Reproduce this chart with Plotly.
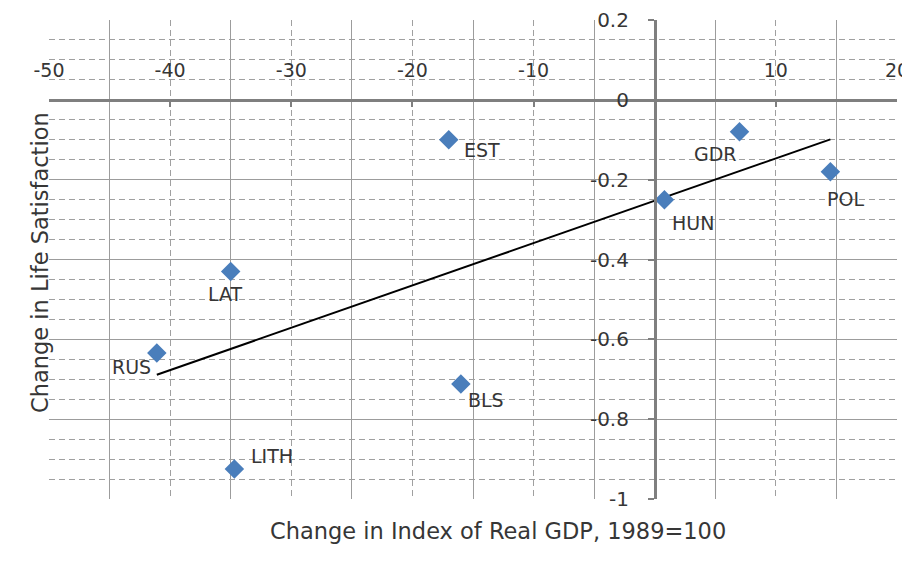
import numpy as np
import plotly.graph_objects as go

# ---- data ----
countries = ["EST", "GDR", "POL", "HUN", "LAT", "RUS", "LITH", "BLS"]
gdp_change = [-17.0, 7.0, 14.5, 0.8, -35.0, -41.1, -34.7, -16.0]
ls_change = [-0.10, -0.08, -0.18, -0.25, -0.43, -0.634, -0.925, -0.712]

x_tick_vals = [-50, -40, -30, -20, -10, 0, 10, 20]
x_tick_text = ["-50", "-40", "-30", "-20", "-10", "", "10", "20"]
y_tick_vals = [0.2, 0, -0.2, -0.4, -0.6, -0.8, -1]
y_tick_text = ["0.2", "0", "-0.2", "-0.4", "-0.6", "-0.8", "-1"]

# label offsets (pixels) for data labels
label_dx = [33, -24, 15, 29, -5, -25, 38, 25]
label_dy = [-10, -22, -27, -23, -23, -14, 13, -16]

x_range = [-50, 20]
y_range = [-1, 0.2]

TXT = "#363636"
FONT = "DejaVu Sans"

# linear trend (least squares) from the data
slope, intercept = np.polyfit(gdp_change, ls_change, 1)
tx = np.array([min(gdp_change), max(gdp_change)])
ty = slope * tx + intercept

fig = go.Figure()
fig.add_trace(go.Scatter(
    x=tx, y=ty, mode="lines",
    line=dict(color="#000000", width=2),
    showlegend=False, hoverinfo="skip"))
fig.add_trace(go.Scatter(
    x=gdp_change, y=ls_change, mode="markers",
    marker=dict(symbol="diamond", size=15, color="#4A7EBB"),
    showlegend=False))

for c, x, y, dx, dy in zip(countries, gdp_change, ls_change, label_dx, label_dy):
    fig.add_annotation(x=x, y=y, text=c, showarrow=False,
                       xshift=dx, yshift=dy,
                       font=dict(family=FONT, size=19, color=TXT))

# axis crossing positions (paper fractions)
x_axis_pos = (0 - y_range[0]) / (y_range[1] - y_range[0])
y_axis_pos = (0 - x_range[0]) / (x_range[1] - x_range[0])

DASH = "6px,4px"
# page body has an 8px margin, so the figure is 8px smaller and margins shifted
fig.update_layout(
    width=902, height=554,
    margin=dict(l=41, r=13, t=12, b=63),
    paper_bgcolor="white", plot_bgcolor="white",
    font=dict(family=FONT, size=20, color=TXT),
    xaxis=dict(
        range=x_range, anchor="free", position=x_axis_pos, side="top",
        automargin=False,
        tickmode="array", tickvals=x_tick_vals, ticktext=x_tick_text,
        showgrid=True, gridcolor="#A0A0A0", gridwidth=1, griddash=DASH,
        minor=dict(tick0=-45, dtick=10, showgrid=True,
                   gridcolor="#9C9C9C", gridwidth=1, griddash="solid"),
        showline=True, linecolor="#7F7F7F", linewidth=2.5,
        ticks="inside", ticklen=5, tickcolor="#7F7F7F", tickwidth=1.5,
        ticklabelstandoff=14,
        zeroline=False,
        tickfont=dict(family=FONT, size=19, color=TXT),
    ),
    yaxis=dict(
        range=y_range, anchor="free", position=y_axis_pos, side="left",
        automargin=False,
        tickmode="array", tickvals=y_tick_vals, ticktext=y_tick_text,
        showgrid=True, gridcolor="#9C9C9C", gridwidth=1,
        minor=dict(tick0=0, dtick=0.05, showgrid=True,
                   gridcolor="#A0A0A0", gridwidth=1, griddash=DASH),
        showline=True, linecolor="#7F7F7F", linewidth=2.5,
        ticks="outside", ticklen=6, tickcolor="#7F7F7F", tickwidth=1.5,
        ticklabelstandoff=15,
        zeroline=False,
        tickfont=dict(family=FONT, size=20, color=TXT),
    ),
)

fig.add_annotation(xref="paper", yref="paper", x=0, y=0.4927, xshift=-24,
                   text="Change in Life Satisfaction", textangle=-90,
                   showarrow=False, font=dict(family=FONT, size=22.5, color=TXT))
fig.add_annotation(xref="paper", yref="paper", x=0.529, y=0, yshift=-47,
                   text="Change in Index of Real GDP, 1989=100",
                   showarrow=False, font=dict(family=FONT, size=22.5, color=TXT))

fig.write_html("out.html")
